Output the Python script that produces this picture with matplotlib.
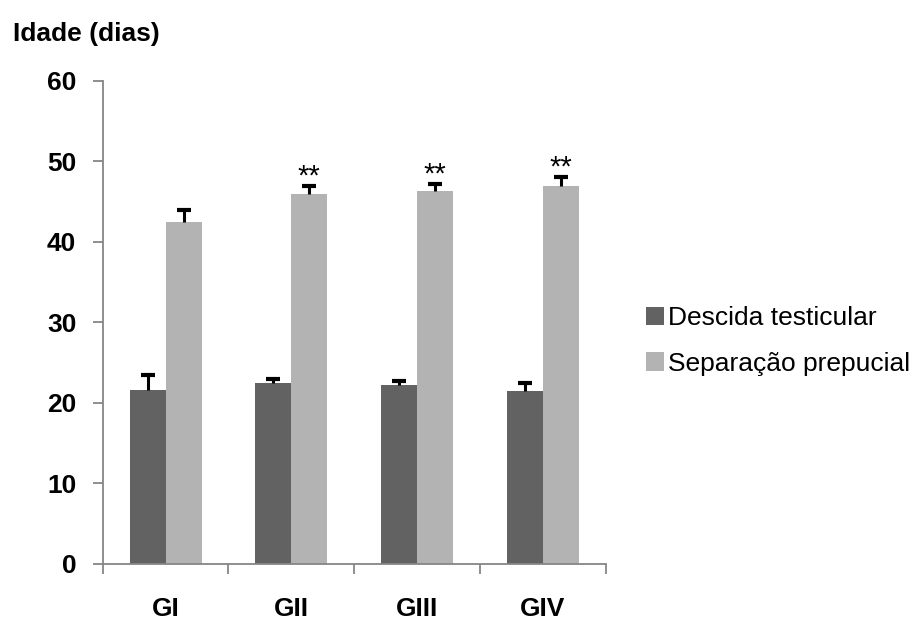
import matplotlib
matplotlib.use("Agg")
import matplotlib.pyplot as plt
import numpy as np

categories = ["GI", "GII", "GIII", "GIV"]
descida = [21.6, 22.5, 22.2, 21.5]
descida_err = [1.9, 0.5, 0.5, 1.0]
separacao = [42.4, 45.9, 46.3, 46.9]
separacao_err = [1.6, 1.0, 0.9, 1.1]
signif = ["", "**", "**", "**"]
series_names = ["Descida testicular", "Separação prepucial"]
yticks = [0, 10, 20, 30, 40, 50, 60]

plt.rcParams['font.family'] = ['Liberation Sans', 'DejaVu Sans']

fig = plt.figure(figsize=(9.17, 6.21), dpi=100)
ax = fig.add_axes([0.112, 0.0918, 0.5485, 0.7782])

x = np.arange(len(categories))
w = 0.286
dark = "#626262"
light = "#b3b3b3"
axis_col = "#868686"

b1 = ax.bar(x - w / 2, descida, w, color=dark, label=series_names[0], zorder=2)
b2 = ax.bar(x + w / 2, separacao, w, color=light, label=series_names[1], zorder=2)

for xs, vals, errs in ((x - w / 2, descida, descida_err), (x + w / 2, separacao, separacao_err)):
    vals = np.array(vals)
    tops = vals + np.array(errs)
    ax.vlines(xs, vals, tops, colors="black", linewidth=2.2, zorder=3)
    ax.plot(xs, tops, ls="none", marker="_", markersize=10, mew=3, color="black", zorder=3)

for xi, v, e, s in zip(x, separacao, separacao_err, signif):
    if s:
        ax.text(xi + w / 2, v + e + 1.2, s, ha="center", va="center", fontsize=21, color="black")

ax.set_xlim(-0.5, len(categories) - 0.5)
ax.set_ylim(0, 60)
ax.set_yticks(yticks)
ax.set_yticklabels([str(t) for t in yticks], fontsize=19, fontweight="bold")
ax.set_xticks(x)
ax.set_xticklabels(categories, fontsize=19, fontweight="bold")
ax.set_xticks(np.arange(len(categories) + 1) - 0.5, minor=True)
ax.tick_params(axis="x", which="major", length=0, pad=24)
ax.tick_params(axis="x", which="minor", length=7, width=1.3, color=axis_col, direction="out")
ax.tick_params(axis="y", length=7, width=1.3, color=axis_col, direction="out", pad=12)

for sp in ["top", "right"]:
    ax.spines[sp].set_visible(False)
for sp in ["left", "bottom"]:
    ax.spines[sp].set_color(axis_col)
    ax.spines[sp].set_linewidth(1.3)

fig.text(0.014, 0.945, "Idade (dias)", fontsize=19, fontweight="bold", va="center", ha="left")

leg = fig.legend(handles=[b1, b2], labels=series_names, loc="center left",
                 bbox_to_anchor=(0.705, 0.451), frameon=False, fontsize=19,
                 handlelength=0.68, handleheight=0.68, handletextpad=0.15,
                 labelspacing=0.82, borderpad=0, borderaxespad=0)

fig.savefig("out.png", dpi=100)
